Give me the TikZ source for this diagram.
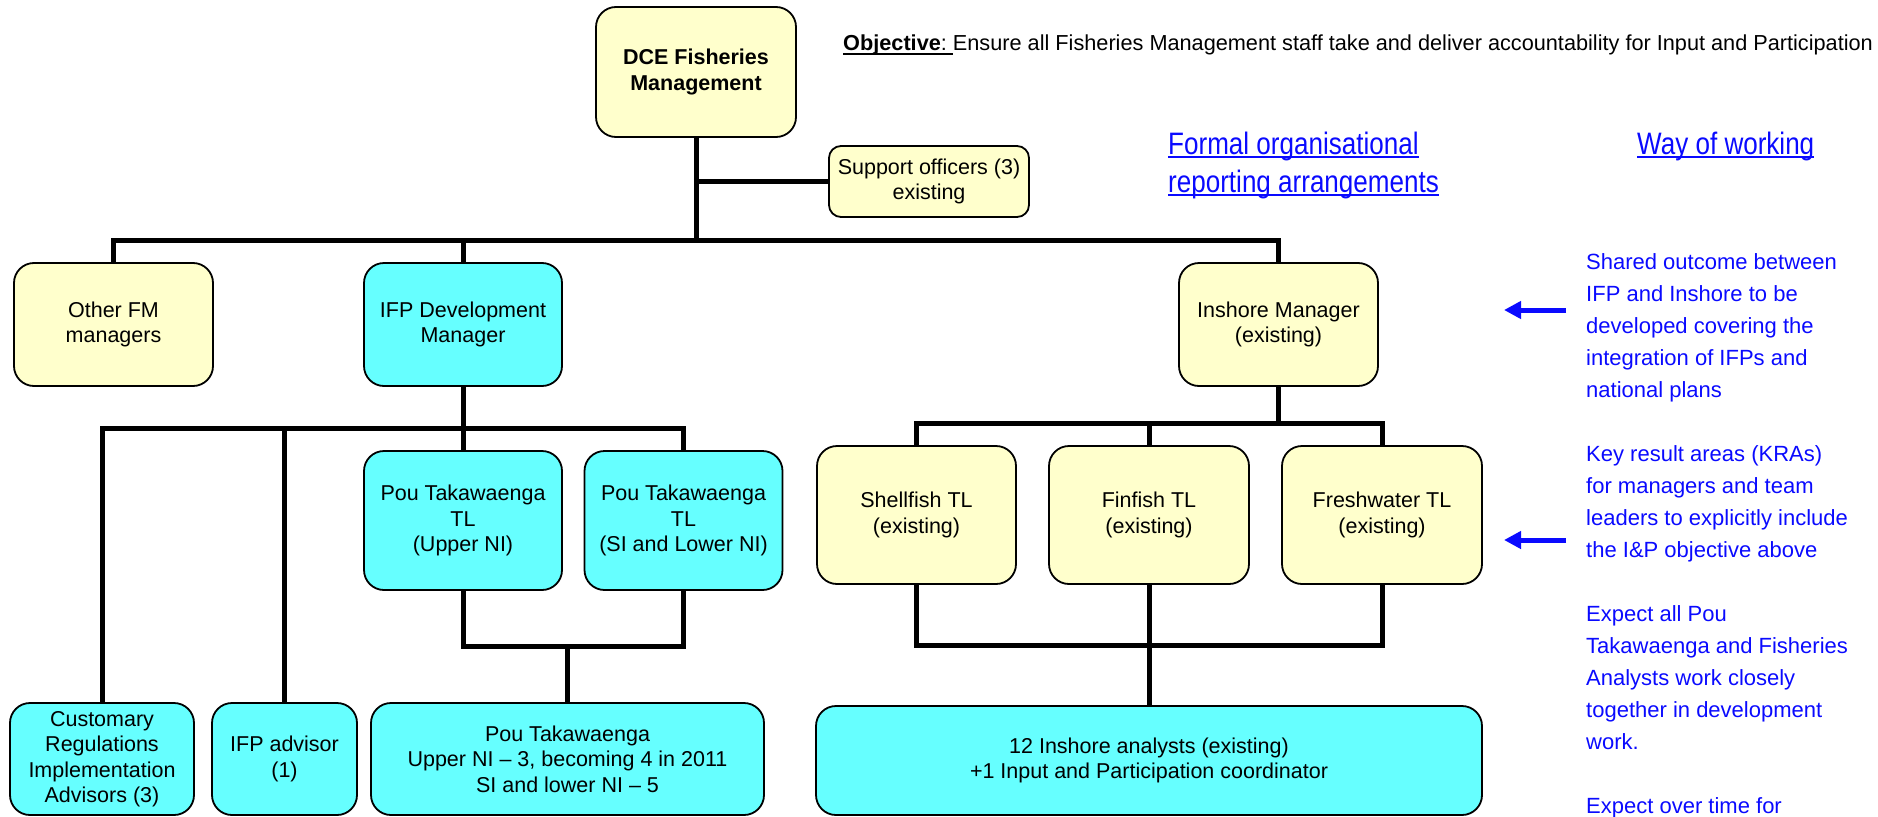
\documentclass[tikz,border=0pt]{standalone}
\usepackage{fontspec}
\setmainfont{Liberation Sans}
\newfontfamily\narrowfont[FakeStretch=0.84]{Liberation Sans}
\usetikzlibrary{arrows.meta}
\definecolor{paleyellow}{RGB}{255,255,204}
\definecolor{aquacyan}{RGB}{102,255,255}
\definecolor{noteblue}{RGB}{10,10,255}
\newcommand{\linkline}[2][2pt]{\setbox0\hbox{#2}\rlap{\rule[-4pt]{\wd0}{#1}}\box0}

\begin{document}
\begin{tikzpicture}[
    x=1pt,y=-1pt,
    role/.style={draw,rounded corners=20pt,line width=1.8pt,align=center,inner sep=0pt,
      font=\fontsize{21.5}{25.5}\selectfont},
    existing/.style={role,fill=paleyellow},
    newrole/.style={role,fill=aquacyan},
    link/.style={line width=5pt,line join=miter},
    pointer/.style={draw=noteblue,line width=5pt,-{Triangle[length=17pt,width=17pt]}},
    heading/.style={text=noteblue,align=left,inner sep=0pt,anchor=base west,
      font=\narrowfont\fontsize{31}{38}\selectfont}
  ]
  \useasboundingbox (0,0) rectangle (1878,816);

  % Top of the structure
  \node[existing,minimum width=200pt,minimum height=130pt,
    font=\bfseries\fontsize{21.5}{25.5}\selectfont] (dce) at (696,72) {DCE Fisheries\\Management};
  \node[existing,rounded corners=12pt,minimum width=200pt,minimum height=71pt] (support) at (929,181.5) {Support officers (3)\\existing};
  \node[anchor=base west,inner sep=0pt,font=\fontsize{21.7}{26}\selectfont] (objective) at (843,51)
    {\linkline{\textbf{Objective}:\ }Ensure all Fisheries Management staff take and deliver accountability for Input and Participation};

  % Managers
  \node[existing,minimum width=199pt,minimum height=123pt] (otherfm) at (113.5,324.5) {Other FM\\managers};
  \node[newrole,minimum width=198pt,minimum height=123pt] (ifpdev) at (463,324.5) {IFP Development\\Manager};
  \node[existing,minimum width=199pt,minimum height=123pt] (inshore) at (1278.5,324.5) {Inshore Manager\\(existing)};

  % Team leaders
  \node[newrole,minimum width=198pt,minimum height=139pt] (pouupper) at (463,520.5) {Pou Takawaenga\\TL\\(Upper NI)};
  \node[newrole,minimum width=198pt,minimum height=139pt] (pousouth) at (683.5,520.5) {Pou Takawaenga\\TL\\(SI and Lower NI)};
  \node[existing,minimum width=199pt,minimum height=138pt] (shellfish) at (916.5,515) {Shellfish TL\\(existing)};
  \node[existing,minimum width=200pt,minimum height=138pt] (finfish) at (1149,515) {Finfish TL\\(existing)};
  \node[existing,minimum width=200pt,minimum height=138pt] (freshwater) at (1382,515) {Freshwater TL\\(existing)};

  % Staff
  \node[newrole,minimum width=184pt,minimum height=112pt] (customary) at (102,759) {Customary\\Regulations\\Implementation\\Advisors (3)};
  \node[newrole,minimum width=145pt,minimum height=112pt] (advisor) at (284.5,759) {IFP advisor\\(1)};
  \node[newrole,minimum width=393pt,minimum height=112pt] (poustaff) at (567.5,759) {Pou Takawaenga\\Upper NI -- 3, becoming 4 in 2011\\SI and lower NI -- 5};
  \node[newrole,minimum width=666pt,minimum height=109pt] (analysts) at (1149,760.5) {12 Inshore analysts (existing)\\+1 Input and Participation coordinator};

  % Connections
  \coordinate (topbus) at (696,240);
  \coordinate (ifpbus) at (463,428);
  \coordinate (pouknot) at (567.5,646);
  \coordinate (inshorebus) at (1278.5,423);
  \coordinate (tlknot) at (1149,645);

  \draw[link] (dce) -- (topbus);
  \draw[link] (dce |- support) -- (support);
  \draw[link] (otherfm) |- (topbus) -| (inshore);
  \draw[link] (topbus -| ifpdev) -- (ifpdev);

  \draw[link] (ifpdev) -- (ifpbus);
  \draw[link] (customary) |- (ifpbus) -| (pousouth);
  \draw[link] (advisor) -- (advisor |- ifpbus);
  \draw[link] (pouupper) -- (pouupper |- ifpbus);
  \draw[link] (pouupper) |- (pouknot) -| (pousouth);
  \draw[link] (pouknot) -- (poustaff);

  \draw[link] (inshore) -- (inshorebus);
  \draw[link] (shellfish) |- (inshorebus) -| (freshwater);
  \draw[link] (finfish) -- (finfish |- inshorebus);
  \draw[link] (shellfish) |- (tlknot) -| (freshwater);
  \draw[link] (finfish) -- (analysts);

  % Headings and way of working
  \node[heading] (formal) at (1168,192) {\linkline{Formal organisational}\\\linkline{reporting arrangements}};
  \node[heading] (way) at (1637,154) {\linkline{Way of working}};
  \node[text=noteblue,align=left,inner sep=0pt,anchor=base west,font=\fontsize{22}{32}\selectfont] (notes) at (1586,813)
    {Shared outcome between\\IFP and Inshore to be\\developed covering the\\integration of IFPs and\\national plans\\[32pt]
     Key result areas (KRAs)\\for managers and team\\leaders to explicitly include\\the I\&P objective above\\[32pt]
     Expect all Pou\\Takawaenga and Fisheries\\Analysts work closely\\together in development\\work.\\[32pt]
     Expect over time for};

  \coordinate (sharedtail) at (1566,310);
  \coordinate (sharedtip) at (1504,310);
  \coordinate (kratail) at (1566,540);
  \coordinate (kratip) at (1504,540);
  \draw[pointer] (sharedtail) -- (sharedtip);
  \draw[pointer] (kratail) -- (kratip);
\end{tikzpicture}
\end{document}
